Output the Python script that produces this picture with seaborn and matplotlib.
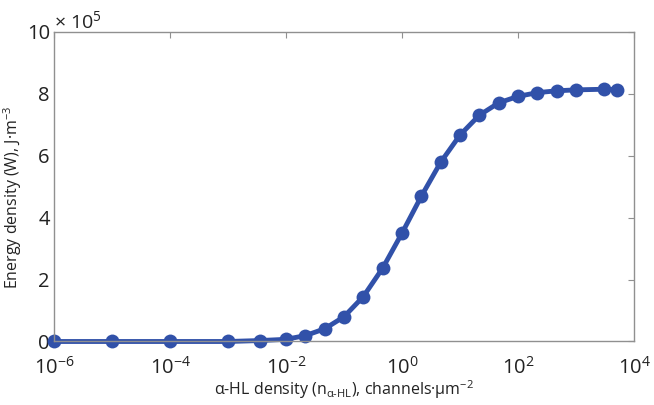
import matplotlib
matplotlib.use('Agg')
import matplotlib.pyplot as plt
import seaborn as sns
import pandas as pd

# alpha-HL channel density (channels per um^2)
density = [1e-6, 1e-5, 1e-4, 1e-3, 0.0035,
           0.01, 0.0215, 0.0464, 0.1, 0.215, 0.464,
           1, 2.15, 4.64, 10, 21.5, 46.4,
           100, 215, 464, 1000, 3000, 5000]
# energy density W, in units of 10^5 J/m^3
energy = [0.0, 0.0, 0.0, 0.0, 0.03,
          0.07, 0.19, 0.41, 0.80, 1.45, 2.37,
          3.50, 4.69, 5.79, 6.67, 7.31, 7.71,
          7.92, 8.04, 8.10, 8.13, 8.15, 8.14]

x_ticks = [1e-6, 1e-4, 1e-2, 1, 1e2, 1e4]
x_ticklabels = [r'$10^{-6}$', r'$10^{-4}$', r'$10^{-2}$', r'$10^{0}$', r'$10^{2}$', r'$10^{4}$']
y_ticks = [0, 2, 4, 6, 8, 10]

df = pd.DataFrame({'density': density, 'energy': energy})

sns.set_theme(style='white')
plt.rcParams['font.family'] = ['Open Sans', 'DejaVu Sans']
plt.rcParams['mathtext.fontset'] = 'custom'
plt.rcParams['mathtext.rm'] = 'Open Sans'
plt.rcParams['mathtext.it'] = 'Open Sans:italic'
plt.rcParams['mathtext.bf'] = 'Open Sans:bold'

blue = '#3151a9'
fig = plt.figure(figsize=(6.54, 4.05), dpi=100)
ax = fig.add_axes([0.0826, 0.1568, 0.8868, 0.7642])

sns.lineplot(data=df, x='density', y='energy', ax=ax, color=blue, linewidth=3.5,
             marker='o', markersize=10, markeredgecolor=blue, markeredgewidth=0,
             clip_on=False)

ax.set_xscale('log')
ax.set_xlim(1e-6, 1e4)
ax.set_ylim(0, 10)
ax.set_xticks(x_ticks)
ax.set_xticklabels(x_ticklabels)
ax.set_yticks(y_ticks)
ax.minorticks_off()

ax.tick_params(axis='both', which='major', direction='in', length=4, width=0.8,
               color='#909090', labelsize=14.5, labelcolor='#222222',
               top=True, right=True)
ax.tick_params(axis='x', pad=11)
ax.tick_params(axis='y', pad=3)
for sp in ax.spines.values():
    sp.set_color('#909090')
    sp.set_linewidth(1.0)

ax.set_xlabel(r'α-HL density (n$_{\text{α-HL}}$), channels·µm$^{\mathregular{-2}}$',
              fontsize=11.5, color='#222222', labelpad=0)
ax.set_ylabel(r'Energy density (W), J·m$^{\mathregular{-3}}$', fontsize=11.5,
              color='#222222')
ax.yaxis.set_label_coords(-0.052, 0.465)
ax.text(0.0, 1.013, r'× 10$^{\mathregular{5}}$', transform=ax.transAxes,
        fontsize=14, color='#222222', ha='left', va='baseline')

fig.savefig('out.png', dpi=100)
